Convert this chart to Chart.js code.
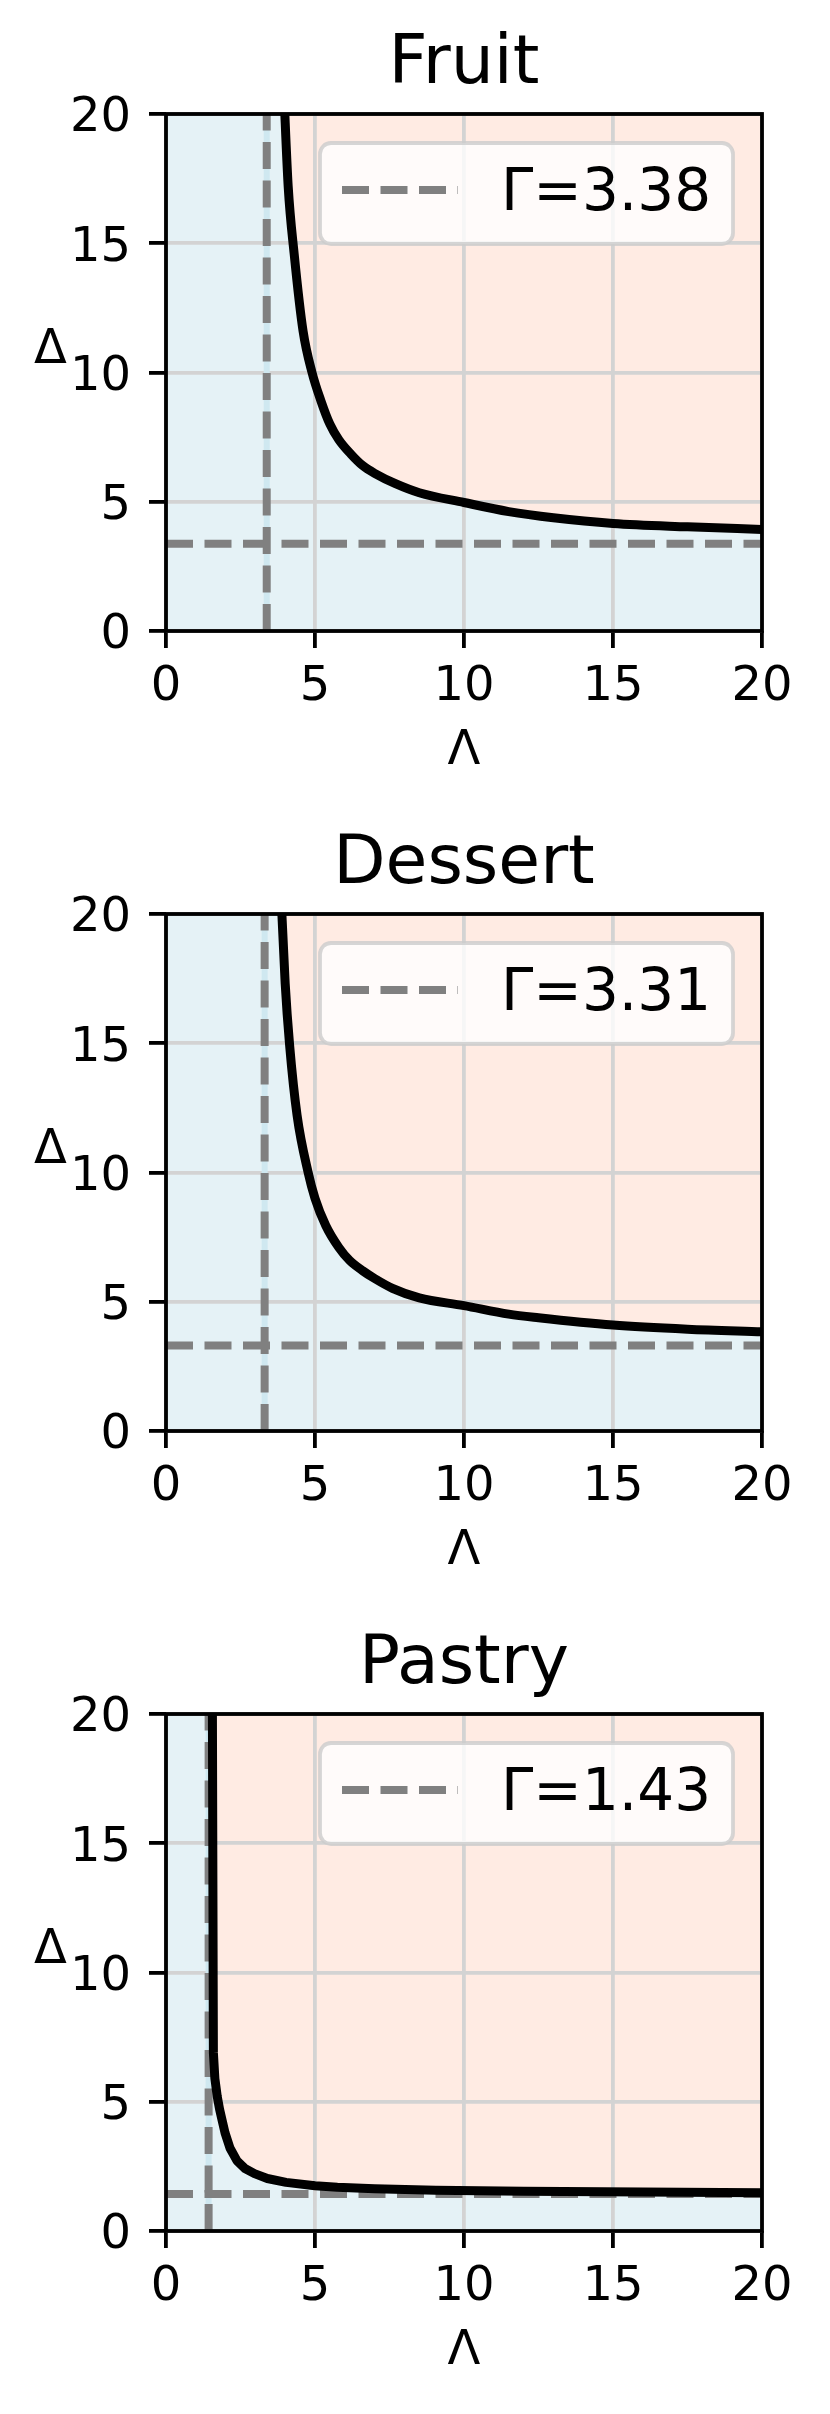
<!DOCTYPE html>
<html>
<head>
<meta charset="utf-8">
<title>Γ regions</title>
<script src="https://cdn.jsdelivr.net/npm/chart.js@4.4.1/dist/chart.umd.min.js"></script>
<style>
  body { margin: 0; background: #fff; }
  canvas { display: block; }
</style>
</head>
<body>
<canvas id="chart0" width="830" height="800"></canvas>
<canvas id="chart1" width="830" height="800"></canvas>
<canvas id="chart2" width="830" height="814"></canvas>
<script>
const titles = ['Fruit', 'Dessert', 'Pastry'];
const gammas = [3.38, 3.31, 1.43];

// Curve points (Λ, Δ)
const fruitLambda = [3.95, 4.1, 4.3, 4.6, 4.9, 5.2, 5.5, 5.8, 6.2, 6.6, 7.0, 7.7, 8.5, 10, 11.5, 13, 15, 17.5, 20];
const fruitDelta = [21.0, 17.2, 14.6, 11.6, 10.0, 8.9, 8.0, 7.4, 6.85, 6.4, 6.1, 5.7, 5.35, 4.97, 4.62, 4.38, 4.16, 4.03, 3.93];
const dessertLambda = [3.85, 4.0, 4.15, 4.4, 4.77, 5.0, 5.36, 5.8, 6.16, 6.6, 7.0, 7.6, 8.5, 10, 11.5, 12.5, 15, 17.5, 20];
const dessertDelta = [21.0, 17.3, 14.9, 12.2, 10.0, 9.0, 7.95, 7.1, 6.6, 6.2, 5.9, 5.52, 5.15, 4.85, 4.52, 4.38, 4.1, 3.94, 3.84];
const pastryLambda = [1.555, 1.59, 1.64, 1.72, 1.8, 1.9, 1.98, 2.15, 2.38, 2.65, 2.97, 3.4, 4.03, 5.0, 5.75, 7.0, 9.05, 12, 16, 20];
const pastryDelta = [21.0, 6.9, 5.9, 5.2, 4.7, 4.2, 3.8, 3.2, 2.72, 2.42, 2.22, 2.03, 1.88, 1.75, 1.69, 1.63, 1.58, 1.54, 1.51, 1.48];

const curvesLambda = [fruitLambda, dessertLambda, pastryLambda];
const curvesDelta = [fruitDelta, dessertDelta, pastryDelta];
// Pastry has a sharp bend, drawn with straight segments
const smoothCurve = [true, true, false];

// Axis limits and ticks (same on both axes)
const axisMin = 0;
const axisMax = 20;
const tickStep = 5;
const xLabel = 'Λ';
const yLabel = 'Δ';

const FONT = "'DejaVu Sans', sans-serif";
const BLUE = '#e5f2f6';
const SALMON = '#ffebe3';
const GLOW = '#cfe8f0';
const GRAY = '#808080';
const DASH = [27, 11.5];

// Rounded rectangle path
function roundRectPath(ctx, x, y, w, h, r) {
    ctx.beginPath();
    ctx.moveTo(x + r, y);
    ctx.arcTo(x + w, y, x + w, y + h, r);
    ctx.arcTo(x + w, y + h, x, y + h, r);
    ctx.arcTo(x, y + h, x, y, r);
    ctx.arcTo(x, y, x + w, y, r);
    ctx.closePath();
}

// Frame, upright y label and in-plot legend
const decorations = {
    id: 'decorations',
    afterDatasetsDraw(chart) {
        const { ctx, chartArea: a } = chart;
        ctx.save();
        ctx.strokeStyle = '#000';
        ctx.lineWidth = 3.8;
        ctx.strokeRect(a.left, a.top, a.right - a.left, a.bottom - a.top);
        ctx.restore();
    },
    afterDraw(chart, args, opts) {
        const { ctx, chartArea: a } = chart;
        ctx.save();

        // y axis label, not rotated
        ctx.fillStyle = '#000';
        ctx.font = '48px ' + FONT;
        ctx.textAlign = 'center';
        ctx.textBaseline = 'alphabetic';
        ctx.fillText(yLabel, 50.5, a.top + 249);

        // legend box
        const w = 413, h = 101;
        const bx = a.right - 29 - w;
        const by = a.top + 29;
        roundRectPath(ctx, bx, by, w, h, 11);
        ctx.fillStyle = 'rgba(255,255,255,0.8)';
        ctx.fill();
        ctx.strokeStyle = 'rgba(204,204,204,0.8)';
        ctx.lineWidth = 3.8;
        ctx.stroke();

        ctx.beginPath();
        ctx.setLineDash(DASH);
        ctx.strokeStyle = GRAY;
        ctx.lineWidth = 8;
        ctx.moveTo(bx + 22, by + 47);
        ctx.lineTo(bx + 138, by + 47);
        ctx.stroke();
        ctx.setLineDash([]);

        ctx.fillStyle = '#000';
        ctx.font = '58px ' + FONT;
        ctx.textAlign = 'left';
        ctx.fillText(opts.label, bx + 181, by + 67);
        ctx.restore();
    }
};

function makeChart(i) {
    const g = gammas[i];
    const curve = curvesLambda[i].map((x, k) => ({ x: x, y: curvesDelta[i][k] }));
    const extraBottom = i === 2 ? 14 : 0;

    const tickFont = { family: FONT, size: 48, lineHeight: 1 };

    new Chart(document.getElementById('chart' + i), {
        type: 'line',
        data: {
            datasets: [
                {
                    // whole plot background
                    data: [{ x: axisMin, y: axisMax }, { x: axisMax, y: axisMax }],
                    fill: 'origin',
                    backgroundColor: BLUE,
                    borderWidth: 0,
                    pointRadius: 0,
                    order: 10
                },
                {
                    data: [{ x: g, y: axisMin }, { x: g, y: axisMax }],
                    borderColor: GLOW,
                    borderWidth: 6,
                    pointRadius: 0,
                    fill: false,
                    order: 3
                },
                {
                    data: [{ x: g, y: axisMin }, { x: g, y: axisMax }],
                    borderColor: GRAY,
                    borderWidth: 8,
                    borderDash: DASH,
                    pointRadius: 0,
                    fill: false,
                    order: 2
                },
                {
                    data: [{ x: axisMin, y: g }, { x: axisMax, y: g }],
                    borderColor: GRAY,
                    borderWidth: 8,
                    borderDash: DASH,
                    pointRadius: 0,
                    fill: false,
                    order: 2
                },
                {
                    data: curve,
                    borderColor: '#000',
                    borderWidth: 9,
                    borderJoinStyle: 'round',
                    backgroundColor: SALMON,
                    fill: 'end',
                    cubicInterpolationMode: smoothCurve[i] ? 'monotone' : 'default',
                    tension: 0,
                    pointRadius: 0,
                    clip: 0,
                    order: 0
                }
            ]
        },
        options: {
            responsive: false,
            animation: false,
            events: [],
            layout: { padding: { left: 0, right: 68, top: 0, bottom: extraBottom } },
            plugins: {
                legend: { display: false },
                tooltip: { enabled: false },
                filler: { drawTime: 'beforeDraw' },
                title: {
                    display: true,
                    text: titles[i],
                    fullSize: false,
                    color: '#000',
                    font: { family: FONT, size: 68, weight: 'normal', lineHeight: 1 },
                    padding: { top: 31.8, bottom: 14.2 }
                },
                decorations: { label: 'Γ=' + g.toFixed(2) }
            },
            scales: {
                x: {
                    type: 'linear',
                    min: axisMin,
                    max: axisMax,
                    afterFit: s => { s.height = 169; },
                    ticks: { stepSize: tickStep, color: '#000', font: tickFont, padding: 15.7, maxRotation: 0, autoSkip: false },
                    grid: { color: '#d3d3d3', lineWidth: 3.8, tickLength: 17, tickColor: '#000', tickWidth: 3.8 },
                    border: { display: false },
                    title: { display: true, text: xLabel, color: '#000', font: tickFont, padding: { top: 0, bottom: 24.8 } }
                },
                y: {
                    type: 'linear',
                    min: axisMin,
                    max: axisMax,
                    afterFit: s => { s.width = 166; },
                    ticks: { stepSize: tickStep, color: '#000', font: tickFont, padding: 18, labelOffset: 5 },
                    grid: { color: '#d3d3d3', lineWidth: 3.8, tickLength: 17, tickColor: '#000', tickWidth: 3.8 },
                    border: { display: false }
                }
            }
        },
        plugins: [decorations]
    });
}

titles.forEach((t, i) => makeChart(i));
</script>
</body>
</html>
